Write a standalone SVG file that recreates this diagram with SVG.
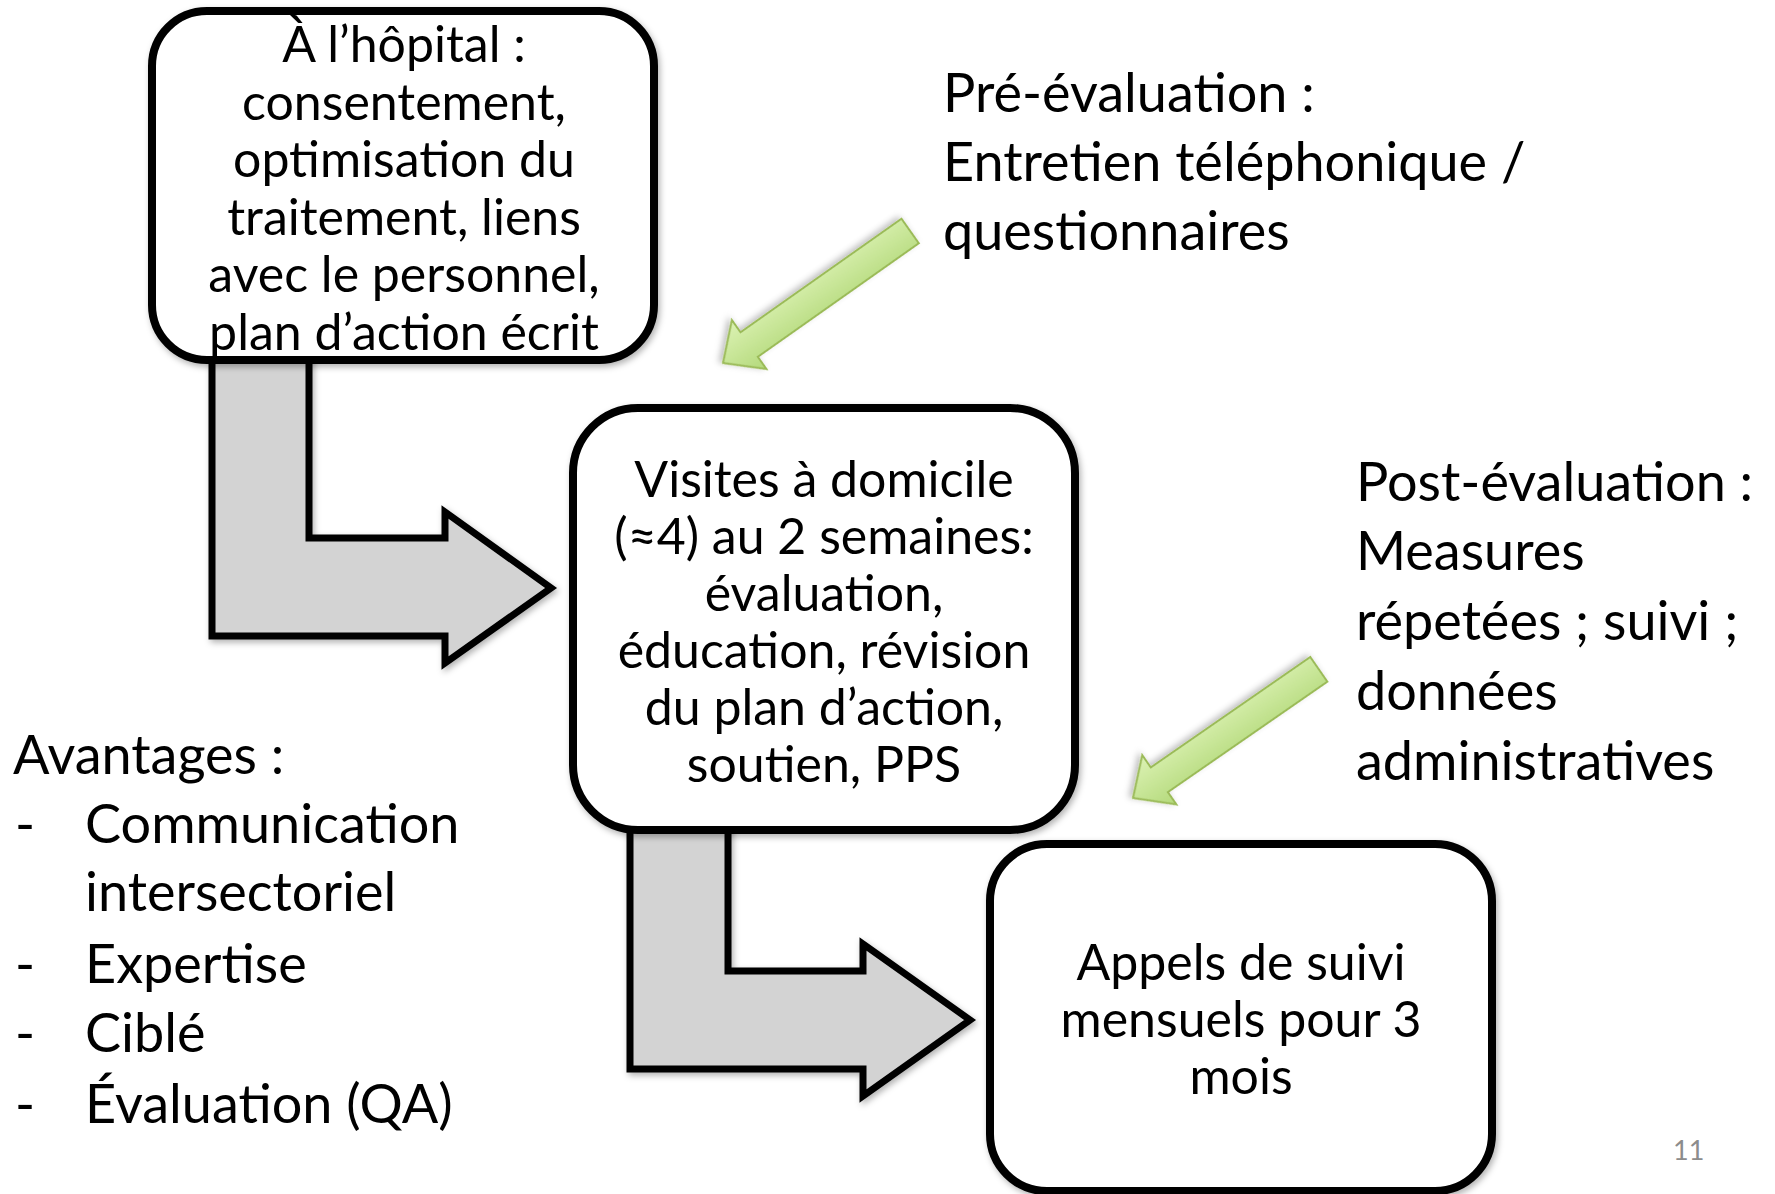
<svg xmlns="http://www.w3.org/2000/svg" width="1775" height="1194" viewBox="0 0 1775 1194">
<defs>
<style>
.box{fill:#fff;stroke:#000;stroke-width:8;filter:url(#sh)}
.bent{fill:#d3d3d3;stroke:#000;stroke-width:7;stroke-linejoin:miter;filter:url(#sh)}
.green{fill:url(#gg);stroke:#9bbb59;stroke-width:2;filter:url(#sh2)}
.t{font-family:Lato,"Open Sans","Liberation Sans",sans-serif;fill:#000}
.bt{font-size:50px;text-anchor:middle}
.lt{font-size:54px}
.pg{font-family:Lato,"Liberation Sans",sans-serif;font-size:27px;fill:#8c8c8c}
</style>
<filter id="sh" x="-10%" y="-10%" width="130%" height="130%">
<feDropShadow dx="2" dy="3" stdDeviation="3" flood-color="#000" flood-opacity="0.3"/>
</filter>
<filter id="sh2" x="-20%" y="-20%" width="140%" height="140%">
<feDropShadow dx="2" dy="3" stdDeviation="3" flood-color="#000" flood-opacity="0.25"/>
</filter>
<linearGradient id="gg" x1="0" y1="1" x2="0" y2="0">
<stop offset="0" stop-color="#dcf2b4"/>
<stop offset="1" stop-color="#b3d97a"/>
</linearGradient>
</defs>
<rect width="1775" height="1194" fill="#fff"/>
<g id="connectors">
<path class="bent" d="M212,340 L309,340 L309,538 L445,538 L445,512 L551,588 L445,663 L445,636 L212,636 Z"/>
<path class="bent" d="M630,800 L728,800 L728,971 L863,971 L863,944 L970,1020 L863,1096 L863,1069 L630,1069 Z"/>
<polygon class="green" transform="translate(723,363) rotate(144.8)" points="0,0 -32,-30 -32,-15 -229,-15 -229,15 -32,15 -32,30"/>
<polygon class="green" transform="translate(1133,798) rotate(145.3)" points="0,0 -32,-30 -32,-15 -226,-15 -226,15 -32,15 -32,30"/>
</g>
<g id="node-hopital">
<rect class="box" x="152" y="11" width="502" height="349" rx="55" ry="55"/>
<text class="t bt"><tspan x="404" y="62">À l’hôpital :</tspan><tspan x="404" y="119.5">consentement,</tspan><tspan x="404" y="177">optimisation du</tspan><tspan x="404" y="234.5">traitement, liens</tspan><tspan x="404" y="292">avec le personnel,</tspan><tspan x="404" y="349.5">plan d’action écrit</tspan></text>
</g>
<g id="node-visites">
<rect class="box" x="573" y="408" width="502" height="422" rx="65" ry="65"/>
<text class="t bt"><tspan x="824" y="497">Visites à domicile</tspan><tspan x="824" y="554">(≈4) au 2 semaines:</tspan><tspan x="824" y="611">évaluation,</tspan><tspan x="824" y="668">éducation, révision</tspan><tspan x="824" y="725">du plan d’action,</tspan><tspan x="824" y="782">soutien, PPS</tspan></text>
</g>
<g id="node-appels">
<rect class="box" x="990" y="844" width="502" height="347" rx="57" ry="57"/>
<text class="t bt"><tspan x="1241" y="980">Appels de suivi</tspan><tspan x="1241" y="1037">mensuels pour 3</tspan><tspan x="1241" y="1094">mois</tspan></text>
</g>
<g id="label-pre">
<text class="t lt"><tspan x="943" y="112">Pré-évaluation :</tspan><tspan x="943" y="181">Entretien téléphonique /</tspan><tspan x="943" y="250">questionnaires</tspan></text>
</g>
<g id="label-post">
<text class="t lt"><tspan x="1356" y="501">Post-évaluation :</tspan><tspan x="1356" y="570">Measures</tspan><tspan x="1356" y="640">répetées ; suivi ;</tspan><tspan x="1356" y="710">données</tspan><tspan x="1356" y="780">administratives</tspan></text>
</g>
<g id="label-avantages">
<text class="t lt"><tspan x="13" y="774">Avantages :</tspan><tspan x="15" y="843">-</tspan><tspan x="85" y="843">Communication</tspan><tspan x="85" y="911">intersectoriel</tspan><tspan x="15" y="983">-</tspan><tspan x="85" y="983">Expertise</tspan><tspan x="15" y="1052">-</tspan><tspan x="85" y="1052">Ciblé</tspan><tspan x="15" y="1123">-</tspan><tspan x="85" y="1123">Évaluation (QA)</tspan></text>
</g>
<text class="pg" x="1673" y="1160">11</text>
</svg>
